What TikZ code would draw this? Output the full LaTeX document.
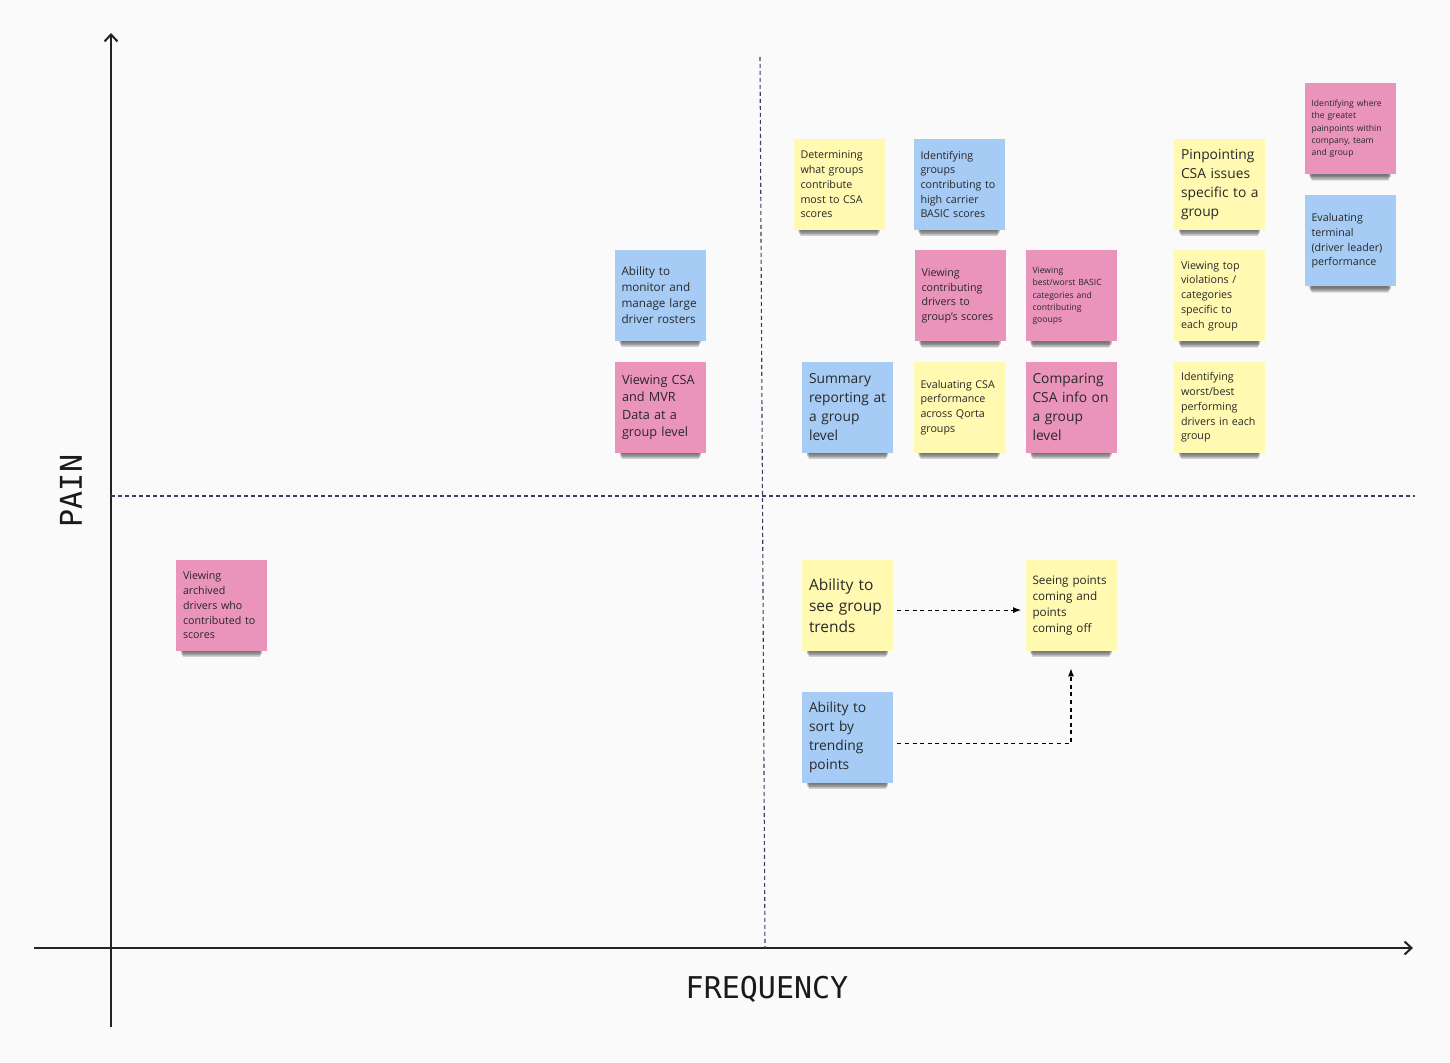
\documentclass[tikz,border=0pt]{standalone}
\usepackage{fontspec}
\setmainfont{Open Sans}
\newfontfamily\monof{DejaVu Sans Mono}
\usetikzlibrary{arrows.meta,shadows}
\definecolor{bgc}{RGB}{250,250,250}
\definecolor{nyel}{RGB}{255,249,177}
\definecolor{nblu}{RGB}{166,204,245}
\definecolor{npnk}{RGB}{234,148,187}
\definecolor{ntxt}{RGB}{40,40,40}
\definecolor{dashc}{RGB}{60,60,100}
\tikzset{
  sh/.style 2 args={general shadow={shadow scale=#1, shadow yshift=#2, fill=black, opacity=0.085, rounded corners=2.5pt}},
  note/.style={rectangle, minimum width=45.5pt, minimum height=45.5pt,
    text width=38.5pt, inner xsep=3.5pt, inner ysep=0pt, align=left, text=ntxt,
    sh={0.90}{-3.3pt}, sh={0.895}{-3.9pt}, sh={0.89}{-4.5pt}, sh={0.88}{-5.2pt},
    sh={0.87}{-5.95pt}, sh={0.86}{-6.7pt}, sh={0.85}{-7.4pt}, sh={0.84}{-8.15pt}},
  yel/.style={note, fill=nyel},
  blu/.style={note, fill=nblu},
  pnk/.style={note, fill=npnk},
  ta/.style={font=\fontsize{4.3}{6.15}\selectfont},
  tb/.style={font=\fontsize{5.35}{7.35}\selectfont},
  tc/.style={font=\fontsize{5.85}{8}\selectfont},
  td/.style={font=\fontsize{6.35}{8.75}\selectfont},
  te/.style={font=\fontsize{6.9}{9.5}\selectfont},
  tf/.style={font=\fontsize{7.75}{10.5}\selectfont},
  axisline/.style={line width=1pt, draw={rgb,255:red,34;green,34;blue,34}, -{Straight Barb[length=3.5pt,width=6.5pt]}},
  quad/.style={draw=dashc, line width=0.55pt, dash pattern=on 2pt off 1.5pt},
  conn/.style={draw=black, line width=0.55pt, dash pattern=on 2pt off 1.8pt, -{Latex[length=4pt,width=3pt]}},
  lab/.style={font=\monof\fontsize{15}{18}\selectfont, text={rgb,255:red,26;green,26;blue,26}}
}
\begin{document}
\begin{tikzpicture}[x=0.5pt,y=-0.5pt]
\fill[bgc] (0,0) rectangle (1450,1063);
\useasboundingbox (0,0) rectangle (1450,1063);
% axes
\coordinate (ybot) at (111,1027);
\coordinate (ytop) at (111,33);
\coordinate (xl) at (34,948);
\coordinate (xr) at (1413,948);
\draw[axisline] (ybot) -- (ytop);
\draw[axisline] (xl) -- (xr);
% quadrant lines
\coordinate (vt) at (760,57);
\coordinate (vb) at (765,948);
\coordinate (hl) at (111,496);
\coordinate (hr) at (1415,496);
\draw[quad] (vt) -- (vb);
\draw[quad] (hl) -- (hr);
% labels
\node[lab, rotate=90] (pain) at (71,491) {PAIN};
\node[lab] (freq) at (767,989) {FREQUENCY};
% notes
\node[yel,tb] (det) at (839,184.5) {Determining\\what~groups\\contribute\\most~to~CSA\\scores};
\node[blu,tb] (idg) at (959,184.5) {Identifying\\groups\\contributing~to\\high~carrier\\BASIC~scores};
\node[pnk,tb] (vcd) at (960,296) {Viewing\\contributing\\drivers~to\\group's~scores};
\node[pnk,ta] (vbw) at (1071,296) {Viewing\\best/worst~BASIC\\categories~and\\contributing\\gooups};
\node[blu,tc] (mon) at (660,295.5) {Ability~to\\monitor~and\\manage~large\\driver~rosters};
\node[pnk,td] (mvr) at (660.5,407.5) {Viewing~CSA\\and~MVR\\Data~at~a\\group~level};
\node[blu,te] (sum) at (847.5,407.5) {Summary\\reporting~at\\a~group\\level};
\node[yel,tb] (eval) at (959,407.5) {Evaluating~CSA\\performance\\across~Qorta\\groups};
\node[pnk,te] (comp) at (1071,407.5) {Comparing\\CSA~info~on\\a~group\\level};
\node[yel,te] (pin) at (1219.5,184.5) {Pinpointing\\CSA~issues\\specific~to~a\\group};
\node[yel,tb] (vtv) at (1219.5,296) {Viewing~top\\violations~/\\categories\\specific~to\\each~group};
\node[yel,tb] (iwb) at (1219.5,407.5) {Identifying\\worst/best\\performing\\drivers~in~each\\group};
\node[pnk,ta] (iwg) at (1350,129) {Identifying~where\\the~greatet\\painpoints~within\\company,~team\\and~group};
\node[blu,tb] (evt) at (1350,241) {Evaluating\\terminal\\(driver~leader)\\performance};
\node[pnk,tb] (arch) at (221.5,605.5) {Viewing\\archived\\drivers~who\\contributed~to\\scores};
\node[yel,tf] (trend) at (847.5,605.5) {Ability~to\\see~group\\trends};
\node[yel,tc] (seep) at (1071,605.5) {Seeing~points\\coming~and\\points\\coming~off};
\node[blu,te] (sort) at (847.5,737.5) {Ability~to\\sort~by\\trending\\points};
% connectors
\draw[conn, shorten <=2pt, shorten >=2pt] ([yshift=-2.3pt]trend.east) -- ([yshift=-2.3pt]seep.west);
\draw[conn, shorten <=2pt, shorten >=8.5pt] ([yshift=-2.8pt]sort.east) -| (seep.south);
\end{tikzpicture}
\end{document}
